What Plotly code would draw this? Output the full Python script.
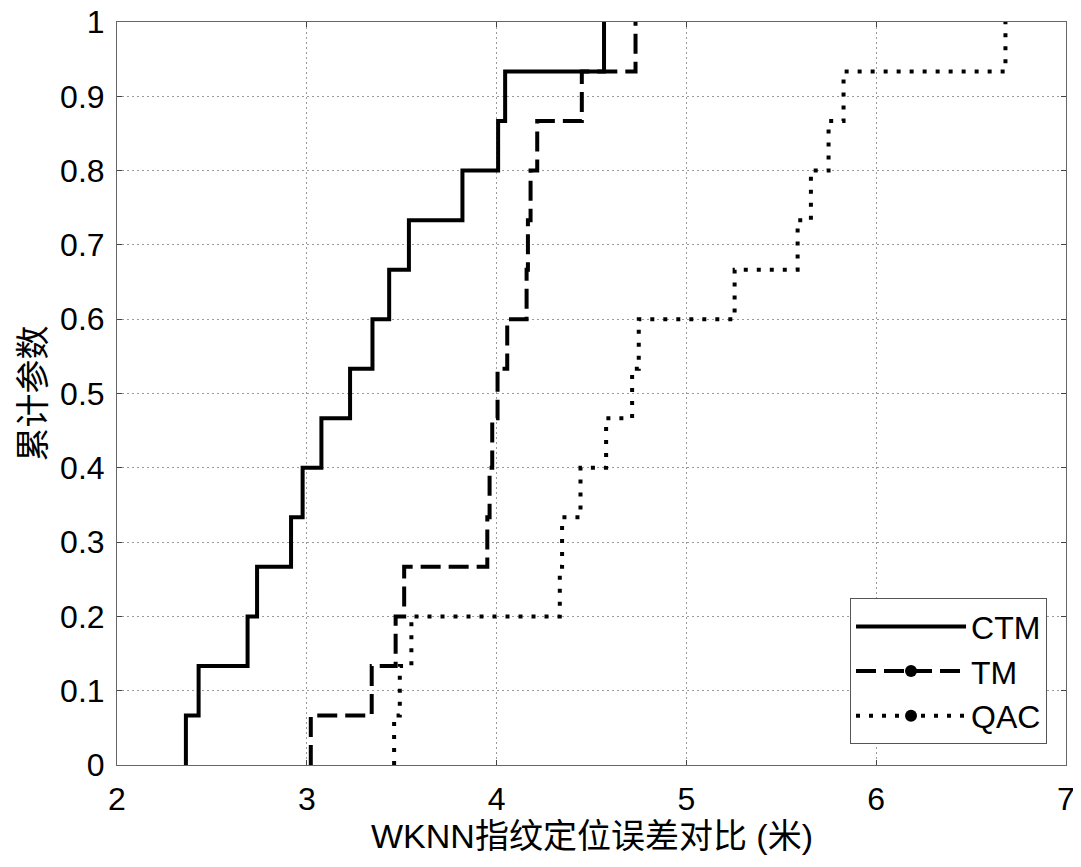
import plotly.graph_objects as go

# Sorted sample values (metres) read from the CDF steps, 15 samples each
ctm = [2.363, 2.430, 2.688, 2.738, 2.917, 2.978, 3.077, 3.228, 3.346, 3.434,
       3.538, 3.820, 4.008, 4.045, 4.566]
tm = [3.021, 3.342, 3.468, 3.513, 3.951, 3.963, 3.977, 4.005, 4.056, 4.158,
      4.165, 4.179, 4.214, 4.449, 4.732]
qac = [3.460, 3.490, 3.551, 4.333, 4.345, 4.442, 4.577, 4.714, 4.749, 5.254,
       5.586, 5.656, 5.749, 5.828, 6.681]

series_names = ["CTM", "TM", "QAC"]
x_ticks = [2, 3, 4, 5, 6, 7]
x_title = "WKNN指纹定位误差对比 (米)"
y_title = "累计参数"

dash_styles = {"CTM": "solid", "TM": "20px,8px", "QAC": "4px,9px"}


def ecdf(vals):
    v = sorted(vals)
    n = len(v)
    xs = [v[0]] + v
    ys = [0.0] + [(i + 1) / n for i in range(n)]
    return xs, ys


FONT = "Liberation Sans, Arial, Noto Sans CJK SC, sans-serif"

fig = go.Figure()
for name, vals in zip(series_names, [ctm, tm, qac]):
    xs, ys = ecdf(vals)
    fig.add_trace(go.Scatter(
        x=xs, y=ys, mode="lines", line_shape="hv",
        line=dict(color="black", width=4, dash=dash_styles[name]),
        showlegend=False, name=name,
    ))
    # legend entry (MATLAB-style, TM/QAC show a dot marker)
    fig.add_trace(go.Scatter(
        x=[None], y=[None],
        mode="lines" if name == "CTM" else "lines+markers",
        line=dict(color="black", width=4, dash=dash_styles[name]),
        marker=dict(color="black", size=12),
        name=name, legendgroup=name, showlegend=True,
    ))

axis_common = dict(
    showline=True, linecolor="#666666", linewidth=1, mirror="ticks",
    ticks="inside", ticklen=5, tickcolor="#444444",
    showgrid=True, gridcolor="#9a9a9a", gridwidth=1, griddash="2px,3px",
    zeroline=False, automargin=False, ticklabeloverflow="allow",
    tickfont=dict(family=FONT, size=32, color="black"),
)

fig.update_xaxes(range=[2, 7], tickvals=x_ticks, ticklabelstandoff=6,
                 **axis_common)
fig.update_yaxes(range=[0, 1], dtick=0.1, tick0=0, ticklabelstandoff=5,
                 title=dict(text=y_title, font=dict(family=FONT, size=34, color="black"),
                            standoff=4),
                 **axis_common)

# x-axis title as centred text below the tick labels
fig.add_annotation(
    text=x_title, xref="paper", yref="paper", x=0.5, y=-0.095,
    xanchor="center", yanchor="middle", showarrow=False,
    font=dict(family=FONT, size=34, color="black"),
)

fig.update_layout(
    width=1073, height=859,
    margin=dict(l=109, r=15, t=14, b=102),
    plot_bgcolor="white", paper_bgcolor="white",
    font=dict(family=FONT, size=32, color="black"),
    legend=dict(
        x=0.98, y=0.028, xanchor="right", yanchor="bottom",
        bgcolor="white", bordercolor="#555555", borderwidth=1,
        font=dict(family=FONT, size=32, color="black"),
        tracegroupgap=0, itemwidth=110,
    ),
)

fig.write_html("out.html")
